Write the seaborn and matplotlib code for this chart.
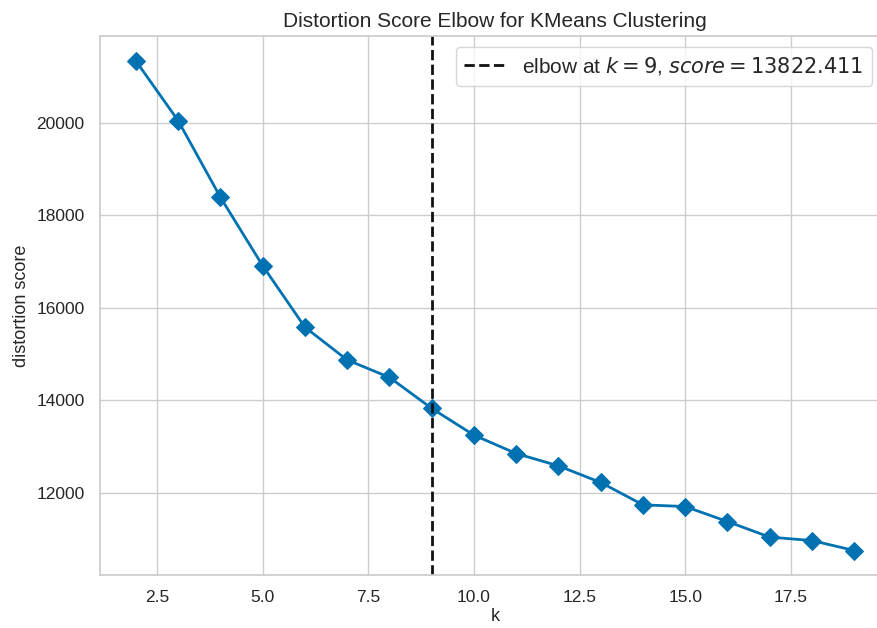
import matplotlib
matplotlib.use("Agg")
import matplotlib.pyplot as plt
import seaborn as sns
import pandas as pd

# k degerleri ve distortion skorlari
k_values = [2, 3, 4, 5, 6, 7, 8, 9, 10, 11, 12, 13, 14, 15, 16, 17, 18, 19]
scores = [21342, 20050, 18392, 16910, 15580, 14870, 14493, 13822.411,
          13242, 12845, 12578, 12218, 11734, 11697, 11372, 11035, 10961, 10745]
elbow_k = 9
elbow_score = 13822.411

df = pd.DataFrame({"k": k_values, "score": scores})

sns.set_theme(style="whitegrid", rc={"axes.edgecolor": ".8", "grid.color": ".8"})
plt.rcParams["font.family"] = ["Liberation Sans", "DejaVu Sans"]

fig = plt.figure(figsize=(8.77, 6.28), dpi=100)
ax = fig.add_axes([0.114, 0.0844, 0.901, 0.8575])

sns.lineplot(data=df, x="k", y="score", marker="D", color="#0072B2",
             linewidth=2, markersize=9, markeredgecolor="#0072B2", ax=ax)
ax.axvline(elbow_k, color="#111111", linestyle="--", linewidth=2,
           label=f"elbow at $k={elbow_k}$, $score={elbow_score:.3f}$")

ax.set_title("Distortion Score Elbow for KMeans Clustering", fontsize=15, pad=7)
ax.set_xlabel("k", fontsize=13, labelpad=2)
ax.set_ylabel("distortion score", fontsize=13, labelpad=5)
ax.tick_params(labelsize=12.5, pad=5)
ax.legend(loc="upper right", bbox_to_anchor=(0.99, 1.0), fontsize=15, frameon=True)

fig.savefig("out.png", dpi=100)
